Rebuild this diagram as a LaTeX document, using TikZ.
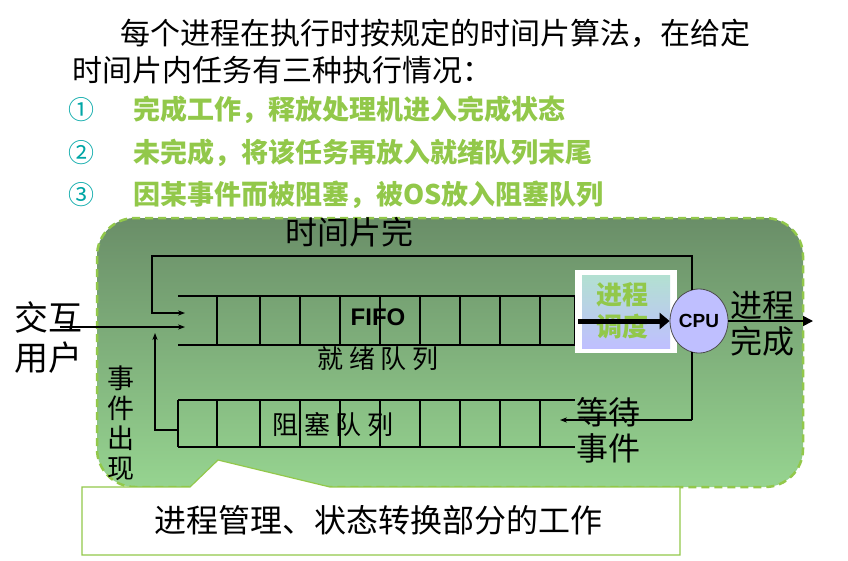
\documentclass[tikz,border=0pt]{standalone}
\usepackage{fontspec}
\setmainfont{Liberation Sans}
\newfontfamily\cjk{Noto Sans CJK SC}
\usetikzlibrary{arrows.meta,shapes.geometric}
\definecolor{lg}{HTML}{92C84A}
\definecolor{dg}{HTML}{6A8E68}
\definecolor{mg}{HTML}{96D490}
\tikzset{ln/.style={line width=1.6pt},arr/.style={ln,-{Stealth[length=7pt]}},
 zh/.style={font=\cjk\fontsize{30}{33}\selectfont,inner sep=0pt},
 gz/.style={zh,text=lg,font=\cjk\bfseries\fontsize{27}{30}\selectfont,anchor=west}}
\begin{document}
\begin{tikzpicture}[x=1pt,y=-1pt]
\useasboundingbox (0,0) rectangle (848,560);
\node[zh,anchor=west] (t1) at (120,33) {每个进程在执行时按规定的时间片算法，在给定};
\node[zh,anchor=west] (t2) at (72,70) {时间片内任务有三种执行情况：};
\foreach \n/\s/\y in {a/①/110,b/②/153,c/③/195}{\node[zh,text=teal!70!cyan,anchor=west,font=\cjk\fontsize{26}{30}\selectfont] (\n) at (68,\y) {\s};}
\node[gz] (l1) at (133,110) {完成工作，释放处理机进入完成状态};
\node[gz] (l2) at (133,153) {未完成，将该任务再放入就绪队列末尾};
\node[gz] (l3) at (133,195) {因某事件而被阻塞，被OS放入阻塞队列};
% big box
\path[top color=dg,bottom color=mg,draw=lg,line width=2.5pt,dash pattern=on 8pt off 5pt,rounded corners=38pt]
 (97,218) rectangle (803,487);
% callout
\draw[lg,line width=1.2pt,fill=white] (82,555) -- (82,487) -- (190,487) -- (218,460) -- (330,487) -- (680,487) -- (680,555) -- cycle;
\node[zh,font=\cjk\fontsize{32}{36}\selectfont] (cap) at (378,520) {进程管理、状态转换部分的工作};
% queues
\draw[ln] (178,296) -- (575,296) (178,345) -- (575,345);
\foreach \x in {217,260,300,340,380,420,460,500,540,575}{\draw[ln] (\x,296) -- (\x,345);}
\draw[ln] (178,400) -- (575,400) (178,447) -- (575,447);
\foreach \x in {178,217,260,300,340,380,420,460,500,540}{\draw[ln] (\x,400) -- (\x,447);}
\node[font=\bfseries\fontsize{24}{26}\selectfont] (fifo) at (378,317) {FIFO};
\node[zh,font=\cjk\fontsize{26}{28}\selectfont] (rq) at (378,359) {就 绪 队 列};
\node[zh,font=\cjk\fontsize{26}{28}\selectfont] (bq) at (333,425) {阻 塞 队 列};
% scheduler
\fill[white] (575,270) rectangle (677,353);
\fill[top color=green!20!teal!30,bottom color=blue!25] (582,275) rectangle (670,348);
\node[zh,text=lg,font=\cjk\bfseries\fontsize{26}{28}\selectfont,align=center] (sch) at (622,311) {进程\\[4pt]调度};
\node[ellipse,draw=black!70,thick,fill=blue!25,minimum width=58pt,minimum height=64pt,inner sep=0pt,font=\bfseries\fontsize{19}{21}\selectfont] (cpu) at (699,321) {CPU};
\draw[line width=5pt,-{Triangle[length=10pt,width=16pt]}] (578,321) -- (cpu.west);
\coordinate (out) at (813,321);
\draw[ln,-{Triangle[length=10pt,width=10pt]}] (cpu.east) -- (out);
\node[zh,font=\cjk\fontsize{32}{36}\selectfont,align=center] (done) at (762,324) {进程\\完成};
% loops
\coordinate (tl) at (152,256);
\coordinate (ra) at (185,313);
\draw[arr] (692,290) |- (tl) |- (ra);
\coordinate (wr) at (692,420);
\coordinate (wl) at (560,420);
\draw[ln] (692,352) -- (wr);
\draw[arr] (wr) -- (wl);
\coordinate (bq0) at (178,430);
\draw[arr] (bq0) -- (155,430) -- (155,333);
\coordinate (ui) at (60,327);
\node[zh,font=\cjk\fontsize{34}{40}\selectfont,align=center] (user) at (48,338) {交互\\用户};
\draw[arr] (ui) -- (185,327);
\node[zh,font=\cjk\fontsize{27}{30}\selectfont,align=center] (ev) at (121,423) {事\\件\\出\\现};
\node[zh,font=\cjk\fontsize{32}{36}\selectfont,align=center] (wait) at (608,430) {等待\\事件};
\node[zh,font=\cjk\fontsize{32}{36}\selectfont] (tq) at (349,232) {时间片完};
\end{tikzpicture}
\end{document}
